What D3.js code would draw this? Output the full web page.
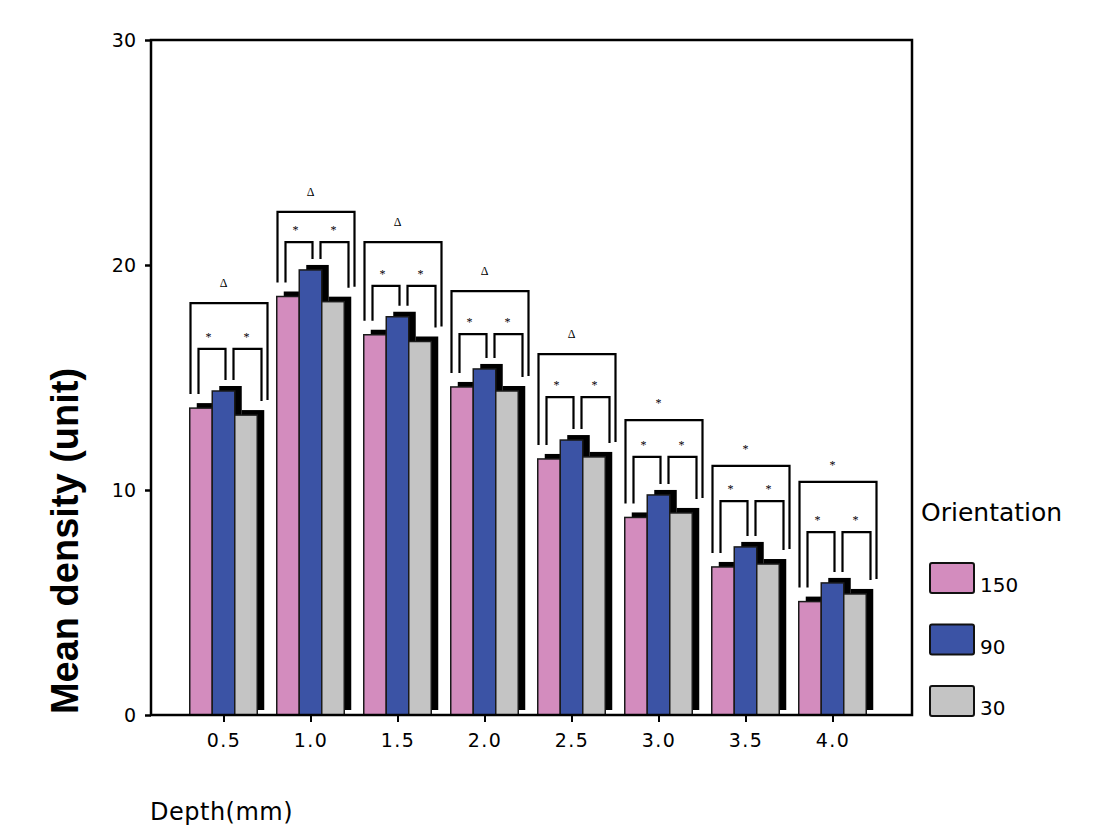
<!DOCTYPE html>
<html>
<head>
<meta charset="utf-8">
<script src="https://cdn.jsdelivr.net/npm/d3@7"></script>
<style>
  body { margin: 0; background: #fff; }
  svg { display: block; }
</style>
</head>
<body>
<div id="chart"></div>
<script>
// values
const depths = ["0.5", "1.0", "1.5", "2.0", "2.5", "3.0", "3.5", "4.0"];
const orientations = ["150", "90", "30"];
const density150 = [13.64, 18.6, 16.9, 14.58, 11.38, 8.78, 6.58, 5.04];
const density90 = [14.4, 19.78, 17.7, 15.38, 12.22, 9.78, 7.47, 5.87];
const density30 = [13.33, 18.37, 16.6, 14.4, 11.47, 8.98, 6.71, 5.38];
// significance brackets (in density units)
const groupBracketLevel = [18.31, 22.36, 21.02, 18.84, 16.04, 13.11, 11.07, 10.36];
const pairBracketLevel = [16.27, 21.02, 19.07, 16.93, 14.13, 11.47, 9.51, 8.13];
const groupMark = ["Δ", "Δ", "Δ", "Δ", "Δ", "*", "*", "*"];
const pairMark = "*";
const yTicks = [0, 10, 20, 30];

const colors = ["#d38cbe", "#3b53a5", "#c4c4c4"];
const seriesValues = [density150, density90, density30];

const width = 1094, height = 834;
const margin = { top: 40, right: 182, bottom: 119, left: 151 };
const tickFont = "DejaVu Sans, Verdana, sans-serif";

const svg = d3.select("#chart").append("svg")
  .attr("width", width)
  .attr("height", height);

const y = d3.scaleLinear()
  .domain([0, 30])
  .range([height - margin.bottom, margin.top]);

const x = d3.scalePoint()
  .domain(depths)
  .range([223.5, 832.5]);

const barW = 22.5;
const shadowDx = 7, shadowDy = -5;

// bars with black drop shadow
const groups = svg.append("g")
  .selectAll("g")
  .data(depths)
  .join("g")
  .attr("transform", d => `translate(${x(d)},0)`);

orientations.forEach((o, k) => {
  const off = (k - 1) * barW - barW / 2;
  groups.append("rect")
    .attr("x", off + shadowDx)
    .attr("y", (d, i) => y(seriesValues[k][i]) + shadowDy)
    .attr("width", barW)
    .attr("height", (d, i) => y(0) - y(seriesValues[k][i]))
    .attr("fill", "#000");
  groups.append("rect")
    .attr("x", off)
    .attr("y", (d, i) => y(seriesValues[k][i]))
    .attr("width", barW)
    .attr("height", (d, i) => y(0) - y(seriesValues[k][i]))
    .attr("fill", colors[k])
    .attr("stroke", "#1a1a1a")
    .attr("stroke-width", 1.5);
});

// brackets
function bracket(g, x1, x2, top, b1, b2) {
  g.append("path")
    .attr("d", `M${x1},${b1}V${top}H${x2}V${b2}`)
    .attr("fill", "none")
    .attr("stroke", "#000")
    .attr("stroke-width", 2.2);
}

groups.each(function (d, i) {
  const g = d3.select(this);
  const pinkTop = y(density150[i]), blueTop = y(density90[i]), grayTop = y(density30[i]);
  const bigTop = y(groupBracketLevel[i]);
  const smallTop = y(pairBracketLevel[i]);
  bracket(g, -33, 44, bigTop, pinkTop - 14, grayTop - 15);
  bracket(g, -25, 2, smallTop, pinkTop - 14, blueTop - 11);
  bracket(g, 10, 38, smallTop, blueTop - 11, grayTop - 14);

  g.append("text")
    .attr("x", 0)
    .attr("y", bigTop - 20)
    .attr("dy", groupMark[i] === "*" ? "0.55em" : "0.3em")
    .attr("text-anchor", "middle")
    .attr("fill", "#000")
    .style("font-family", "Liberation Serif, serif")
    .style("font-size", groupMark[i] === "*" ? "12px" : "12px")
    .text(groupMark[i]);

  [-15, 23].forEach(sx => {
    g.append("text")
      .attr("x", sx)
      .attr("y", smallTop - 15)
      .attr("dy", "0.55em")
      .attr("text-anchor", "middle")
      .attr("fill", "#000")
      .style("font-family", "Liberation Serif, serif")
      .style("font-size", "12px")
      .text(pairMark);
  });
});

// frame
svg.append("rect")
  .attr("x", margin.left)
  .attr("y", margin.top)
  .attr("width", 912 - margin.left)
  .attr("height", y(0) - margin.top)
  .attr("fill", "none")
  .attr("stroke", "#000")
  .attr("stroke-width", 2.5);

// axes
const yAxis = svg.append("g")
  .attr("transform", `translate(${margin.left},0)`)
  .call(d3.axisLeft(y).tickValues(yTicks).tickSize(6).tickPadding(9))
  .call(g => g.select(".domain").remove());
yAxis.selectAll("line").attr("stroke-width", 2.5);
yAxis.selectAll("text")
  .attr("fill", "#000")
  .style("font-family", tickFont)
  .style("font-size", "19px");

const xAxis = svg.append("g")
  .attr("transform", `translate(0,${y(0)})`)
  .call(d3.axisBottom(x).tickSize(7).tickPadding(12))
  .call(g => g.select(".domain").remove());
xAxis.selectAll("line").attr("stroke-width", 2);
xAxis.selectAll("text")
  .attr("fill", "#000")
  .style("font-family", tickFont)
  .style("font-size", "19px")
  .style("letter-spacing", "1.5px");

// axis titles
svg.append("text")
  .attr("transform", `translate(78,541) rotate(-90)`)
  .attr("text-anchor", "middle")
  .style("font-family", "Liberation Sans, Arial, sans-serif")
  .style("font-weight", "bold")
  .style("font-size", "38px")
  .text("Mean density (unit)");

svg.append("text")
  .attr("x", 150)
  .attr("y", 820)
  .style("font-family", tickFont)
  .style("font-size", "24px")
  .style("letter-spacing", "0.5px")
  .text("Depth(mm)");

// legend
const legend = svg.append("g");
legend.append("text")
  .attr("x", 921)
  .attr("y", 521)
  .style("font-family", tickFont)
  .style("font-size", "25px")
  .text("Orientation");

const legendY = d3.scalePoint().domain(orientations).range([563, 686]);
const items = legend.selectAll("g.item")
  .data(orientations)
  .join("g")
  .attr("class", "item")
  .attr("transform", d => `translate(930,${legendY(d)})`);
items.append("rect")
  .attr("width", 44)
  .attr("height", 30)
  .attr("rx", 2)
  .attr("fill", (d, i) => colors[i])
  .attr("stroke", "#111")
  .attr("stroke-width", 2);
items.append("text")
  .attr("x", 50)
  .attr("y", 29)
  .style("font-family", tickFont)
  .style("font-size", "20px")
  .text(d => d);
</script>
</body>
</html>
